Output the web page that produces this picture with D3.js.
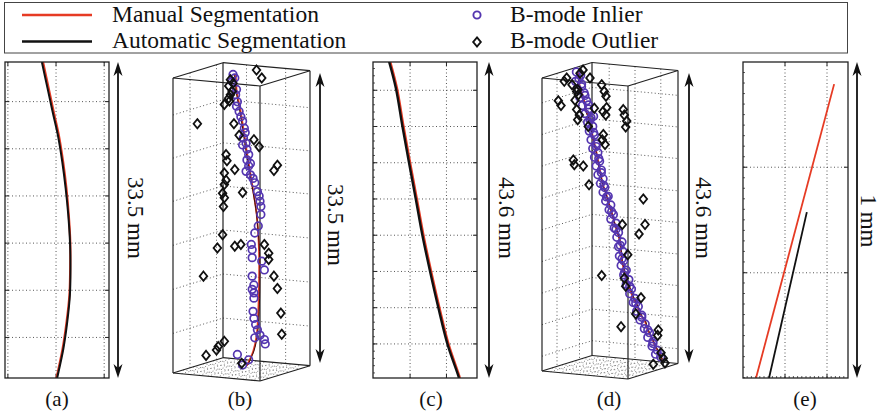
<!DOCTYPE html>
<html>
<head>
<meta charset="utf-8">
<script src="https://cdn.jsdelivr.net/npm/d3@7"></script>
<style>
body { margin: 0; background: #fff; }
text { font-family: "Liberation Serif", "Times New Roman", serif; fill: #111; }
</style>
</head>
<body>
<script>
// colours
var red = "#e63b24", purple = "#5436b0";

// legend + labels
var legendLabels = ["Manual Segmentation", "Automatic Segmentation", "B-mode Inlier", "B-mode Outlier"];
var panelLabels = ["(a)", "(b)", "(c)", "(d)", "(e)"];
var arrowLabels = ["33.5 mm", "33.5 mm", "43.6 mm", "43.6 mm", "1 mm"];

// (a) lateral mm, depth mm
var manualA = [[-1.35,15.8],[-0.76,18.6],[-0.24,21.1],[0.28,23.5],[0.74,26.4],[1.08,29.2],[1.32,32.0],[1.48,34.9],[1.47,37.7],[1.39,40.5],[1.10,43.3],[0.68,46.2],[0.07,49.2],[0.03,49.4]];
var autoA = [[-1.47,15.8],[-0.88,18.6],[-0.35,21.1],[0.18,23.5],[0.65,26.4],[1.00,29.2],[1.27,32.0],[1.45,34.9],[1.50,37.7],[1.44,40.5],[1.17,43.3],[0.76,46.2],[0.14,49.2],[0.10,49.4]];
var xTicksA = [-5, 0, 5], yTicksA = [20, 25, 30, 35, 40, 45];

// (c)
var manualC = [[-2.74,11.0],[-1.80,14.7],[-0.89,20.0],[0.03,25.1],[0.96,30.1],[1.87,35.1],[2.93,40.1],[4.07,45.1],[5.32,50.1],[6.80,54.5],[6.86,54.8]];
var autoC = [[-2.90,11.0],[-1.96,14.7],[-1.05,20.0],[-0.13,25.1],[0.80,30.1],[1.71,35.1],[2.77,40.1],[3.91,45.1],[5.16,50.1],[6.66,54.5],[6.72,54.8]];
var xTicksC = [0, 5], yTicksC = [15, 20, 25, 30, 35, 40, 45, 50];

// (e)
var manualE = [[0.031,1.0],[0.217,0.07]];
var autoE = [[0.062,1.0],[0.152,0.475]];
var xTicksE = [0.1, 0.2], yTicksE = [0.333, 0.667];

// (b) projected view: lateral mm, depth mm
var manualB = [[7.1,-0.4],[7.22,0],[7.32,1.5],[7.7,3.4],[8.08,5.7],[8.47,8.3],[8.85,10.6],[9.23,12.9],[9.62,15.5],[9.89,19.7],[9.89,23.5],[9.8,26.5],[9.62,29.2],[9.23,31.0],[8.47,32.7]];
var autoB = [[7.0,-0.4],[7.12,0],[7.25,1.5],[7.62,3.4],[8.0,5.7],[8.4,8.3],[8.8,10.6],[9.2,12.9],[9.6,15.5],[9.95,19.7],[9.98,23.5],[9.9,26.5],[9.7,29.2],[9.3,31.0],[8.6,32.6]];
var inlierB = [[6.9,-0.4],[7.1,0],[6.8,0.4],[7.3,1.3],[7.2,1.9],[7.4,2.7],[7.3,3.2],[7.6,3.8],[7.8,4.4],[8.0,4.9],[8.2,5.7],[8.3,6.2],[8.1,6.8],[8.4,7.4],[8.0,7.6],[8.5,8.1],[8.7,8.7],[8.5,9.3],[8.9,9.7],[8.7,10.0],[8.4,10.6],[8.9,11.0],[9.2,11.4],[9.4,11.9],[9.7,12.9],[9.9,13.4],[10.0,14.0],[10.1,14.6],[10.1,15.5],[9.8,16.8],[9.4,17.6],[9.0,18.9],[9.1,19.5],[9.1,20.4],[10.2,20.8],[10.5,21.8],[9.1,22.5],[9.3,23.5],[9.1,24.0],[9.3,24.4],[9.3,25.0],[9.2,26.5],[9.3,27.3],[9.5,28.0],[9.7,28.6],[10.0,29.2],[9.4,29.5],[10.5,29.7],[10.6,30.2],[7.4,31.4],[8.7,32.0],[8.0,32.6]];
var outlierB = [[9.6,-0.9],[10.2,0],[6.6,0.2],[6.9,0.6],[6.4,0.9],[6.8,1.5],[6.6,1.9],[6.4,2.3],[6.5,2.6],[5.9,3.0],[2.8,5.2],[7.0,5.2],[7.6,6.5],[9.3,7.0],[9.9,7.8],[6.1,8.7],[6.2,9.4],[12.0,9.9],[11.6,10.5],[7.1,10.4],[5.9,10.8],[6.1,11.6],[5.9,12.1],[8.0,13.0],[5.7,13.1],[5.9,13.6],[5.8,14.6],[5.7,17.8],[5.1,19.3],[7.1,19.1],[7.8,18.9],[10.5,18.9],[11.0,19.9],[11.0,20.6],[3.5,22.5],[11.6,22.5],[12.0,23.9],[12.4,26.7],[12.5,29.1],[5.9,29.9],[5.2,30.5],[5.0,30.9],[3.8,31.5],[7.9,32.4]];
var zTicksB = [4.2, 9.1, 14.0, 19.0, 24.0, 29.0];

// (d)
var manualD = [[4.19,-0.9],[4.30,0.3],[4.42,1.5],[4.77,2.7],[5.0,4.0],[5.23,5.2],[5.58,6.4],[5.76,7.7],[5.93,8.9],[6.16,10.1],[6.40,11.5],[6.57,12.7],[6.74,13.8],[6.92,14.9],[7.09,15.9],[7.44,17.1],[7.67,18.3],[8.02,19.6],[8.26,20.8],[8.72,22.8],[9.07,24.3],[9.19,25.7],[9.30,27.2],[9.53,28.6],[9.77,29.8],[10.12,31.0],[10.47,32.3],[10.81,33.2],[11.16,34.2],[11.51,35.3],[11.98,36.2],[12.21,37.2],[12.56,38.2],[12.91,39.1],[13.14,39.9],[13.49,40.6],[13.72,41.2],[14.0,42.0]];
var autoD = [[4.12,-0.9],[4.24,0.3],[4.37,1.5],[4.71,2.7],[4.95,4.0],[5.18,5.2],[5.53,6.4],[5.72,7.7],[5.89,8.9],[6.12,10.1],[6.37,11.5],[6.54,12.7],[6.72,13.8],[6.90,14.9],[7.07,15.9],[7.42,17.1],[7.66,18.3],[8.01,19.6],[8.26,20.8],[8.73,22.8],[9.09,24.3],[9.22,25.7],[9.34,27.2],[9.58,28.6],[9.83,29.8],[10.18,31.0],[10.54,32.3],[10.88,33.2],[11.23,34.2],[11.58,35.3],[12.05,36.2],[12.28,37.2],[12.63,38.2],[12.97,39.1],[13.2,39.9],[13.55,40.6],[13.78,41.2],[14.05,42.0]];
var inlierD = [[4.0,-0.9],[4.5,-0.4],[3.9,0.5],[4.6,0.9],[4.1,1.6],[4.9,2.2],[4.4,2.9],[5.2,3.4],[4.7,4.1],[5.4,4.6],[5.0,5.3],[5.7,5.9],[5.3,6.6],[5.9,7.2],[5.5,7.9],[6.1,8.5],[5.7,9.2],[6.3,9.8],[5.9,10.5],[6.5,11.1],[6.1,11.8],[6.7,12.4],[6.3,13.1],[6.9,13.7],[6.5,14.4],[7.1,15.0],[6.8,15.7],[7.3,16.3],[7.1,17.0],[7.7,17.6],[7.4,18.3],[8.0,18.9],[7.8,19.6],[8.3,20.3],[8.0,21.0],[8.6,21.6],[8.4,22.3],[8.9,23.0],[8.7,23.7],[9.3,24.4],[8.9,25.1],[9.4,25.8],[9.0,26.5],[9.5,27.2],[9.2,27.9],[9.8,28.6],[9.5,29.3],[10.1,30.0],[9.8,30.7],[10.4,31.4],[10.2,32.1],[10.8,32.8],[10.6,33.4],[11.2,34.0],[11.0,34.7],[11.6,35.3],[11.4,36.0],[12.0,36.6],[11.9,37.3],[12.5,37.9],[12.3,38.6],[12.9,39.2],[12.8,39.9],[13.4,40.5],[13.2,41.1],[13.8,41.5],[6.0,5.7],[4.3,0.1],[4.6,1.3],[5.0,2.6],[5.4,4.0],[5.6,6.2],[6.0,8.1],[6.3,10.2],[6.6,12.0],[6.9,14.1],[7.2,16.0],[7.5,17.7],[8.1,19.9],[8.6,22.5],[9.1,24.9],[9.3,26.9],[9.6,28.9],[10.2,31.0],[10.9,33.5],[11.6,35.6],[12.3,37.5],[12.9,39.5]];
var outlierD = [[2.87,0],[2.59,0.5],[4.42,-0.7],[4.77,-1.2],[5.58,0],[3.49,1.0],[4.15,1.7],[4.03,2.0],[4.22,2.5],[3.84,3.3],[6.94,1.0],[7.24,2.0],[7.44,2.7],[1.9,3.4],[2.21,4.1],[4.03,4.7],[4.34,5.5],[4.15,6.2],[6.08,4.5],[7.52,4.4],[7.41,5.5],[7.1,5.0],[9.45,4.7],[9.57,5.5],[9.85,6.4],[9.73,7.3],[5.38,7.2],[7.13,8.4],[7.01,9.2],[7.33,9.9],[3.64,12.2],[3.76,12.9],[4.8,13.1],[5.47,15.9],[11.78,18.0],[9.34,21.8],[11.98,21.8],[11.28,23.2],[9.97,26.3],[6.94,29.4],[9.57,29.8],[9.73,31.0],[11.51,32.7],[10.9,35.1],[9.19,37.0],[13.52,37.5],[13.45,38.3],[13.84,40.9],[14.1,41.7],[14.3,42.4],[12.94,42.6]];
var zTicksD = [3.7, 8.4, 13.1, 17.9, 22.6, 27.3, 32.0, 36.7, 41.4];

var svg = d3.select("body").append("svg")
  .attr("width", 881)
  .attr("height", 416);

var gridCol = "#444";

function diamond(cx, cy) {
  return "M" + cx + "," + (cy - 4.6) + "L" + (cx + 3.8) + "," + cy + "L" + cx + "," + (cy + 4.6) + "L" + (cx - 3.8) + "," + cy + "Z";
}

function curveLine(xs, ys) {
  return d3.line().x(function(d){ return xs(d[0]); }).y(function(d){ return ys(d[1]); }).curve(d3.curveCatmullRom);
}

//--- legend
var lg = svg.append("g");
lg.append("rect").attr("x", 4.5).attr("y", 2.5).attr("width", 843).attr("height", 50.5)
  .attr("fill", "none").attr("stroke", "#444").attr("stroke-width", 1);
lg.append("line").attr("x1", 22).attr("x2", 92).attr("y1", 15).attr("y2", 15).attr("stroke", red).attr("stroke-width", 2.5);
lg.append("line").attr("x1", 22).attr("x2", 92).attr("y1", 41.5).attr("y2", 41.5).attr("stroke", "#111").attr("stroke-width", 2.5);
lg.append("circle").attr("cx", 477).attr("cy", 15).attr("r", 3.6).attr("fill", "none").attr("stroke", purple).attr("stroke-width", 1.9);
lg.append("path").attr("d", diamond(477, 42)).attr("fill", "none").attr("stroke", "#111").attr("stroke-width", 1.9);
[[112, 22], [112, 48], [510, 22], [510, 48]].forEach(function(p, i) {
  lg.append("text").attr("x", p[0]).attr("y", p[1]).attr("font-size", "23.5px").text(legendLabels[i]);
});

//--- 2D panels
function panel2D(id, xs, ys, xTicks, yTicks, manual, auto, widths, minor) {
  var g = svg.append("g");
  var x0 = xs.range()[0], x1 = xs.range()[1], y0 = ys.range()[0], y1 = ys.range()[1];
  g.append("clipPath").attr("id", id).append("rect")
    .attr("x", x0).attr("y", y0).attr("width", x1 - x0).attr("height", y1 - y0);

  g.selectAll(".gx").data(xTicks).enter().append("line")
    .attr("x1", xs).attr("x2", xs).attr("y1", y0).attr("y2", y1)
    .attr("stroke", gridCol).attr("stroke-width", 0.9).attr("stroke-dasharray", "1,2.5");
  g.selectAll(".gy").data(yTicks).enter().append("line")
    .attr("y1", ys).attr("y2", ys).attr("x1", x0).attr("x2", x1)
    .attr("stroke", gridCol).attr("stroke-width", 0.9).attr("stroke-dasharray", "1,2.5");

  // inner tick marks
  yTicks.forEach(function(t) {
    g.append("line").attr("x1", x0).attr("x2", x0 + 4).attr("y1", ys(t)).attr("y2", ys(t)).attr("stroke", "#222");
    g.append("line").attr("x1", x1).attr("x2", x1 - 4).attr("y1", ys(t)).attr("y2", ys(t)).attr("stroke", "#222");
  });
  xTicks.forEach(function(t) {
    g.append("line").attr("x1", xs(t)).attr("x2", xs(t)).attr("y1", y0).attr("y2", y0 + 4).attr("stroke", "#222");
    g.append("line").attr("x1", xs(t)).attr("x2", xs(t)).attr("y1", y1).attr("y2", y1 - 4).attr("stroke", "#222");
  });
  if (minor) {
    minor.y.forEach(function(t) {
      g.append("line").attr("x1", x0).attr("x2", x0 + 2).attr("y1", ys(t)).attr("y2", ys(t)).attr("stroke", "#333").attr("stroke-width", 0.8);
    });
    minor.x.forEach(function(t) {
      g.append("line").attr("x1", xs(t)).attr("x2", xs(t)).attr("y1", y1).attr("y2", y1 - 2).attr("stroke", "#333").attr("stroke-width", 0.8);
    });
  }

  var lines = g.append("g").attr("clip-path", "url(#" + id + ")");
  lines.append("path").attr("d", curveLine(xs, ys)(manual)).attr("fill", "none").attr("stroke", red).attr("stroke-width", widths[0]);
  lines.append("path").attr("d", curveLine(xs, ys)(auto)).attr("fill", "none").attr("stroke", "#111").attr("stroke-width", widths[1]);

  g.append("rect").attr("x", x0).attr("y", y0).attr("width", x1 - x0).attr("height", y1 - y0)
    .attr("fill", "none").attr("stroke", "#222").attr("stroke-width", 1.3);
}

var xA = d3.scaleLinear().domain([-5.3, 5.5]).range([5, 109]);
var yA = d3.scaleLinear().domain([15.8, 49.3]).range([62, 378]);
panel2D("clipA", xA, yA, xTicksA, yTicksA, manualA, autoA, [2.2, 2], null);

var xC = d3.scaleLinear().domain([-5.1, 9.2]).range([373, 477]);
var yC = d3.scaleLinear().domain([11.1, 54.7]).range([62, 378]);
panel2D("clipC", xC, yC, xTicksC, yTicksC, manualC, autoC, [2.2, 2.4], {y: d3.range(12, 54.5, 1), x: []});

var xE = d3.scaleLinear().domain([0, 0.25]).range([743, 848]);
var yE = d3.scaleLinear().domain([0, 1]).range([62, 378]);
panel2D("clipE", xE, yE, xTicksE, yTicksE, manualE, autoE, [1.8, 1.8], {y: d3.range(0.0333, 1, 0.0333), x: d3.range(0.01, 0.25, 0.01)});

//--- 3D panels
function panel3D(cfg) {
  var g = svg.append("g");
  var D = cfg.y.domain()[1], L = cfg.x.domain()[1];
  var wx = cfg.x(L) - cfg.x(0);
  function P(X, Y, d) {
    return [cfg.x(0) + wx * X + cfg.back[0] * Y, cfg.y(d) + cfg.slope * X + cfg.back[1] * Y];
  }
  function seg(a, b, dotted, col) {
    g.append("line").attr("x1", a[0]).attr("y1", a[1]).attr("x2", b[0]).attr("y2", b[1])
      .attr("stroke", col || (dotted ? gridCol : "#222"))
      .attr("stroke-width", dotted ? 0.9 : 1.2)
      .attr("stroke-dasharray", dotted ? "1,2.5" : null);
  }
  // grid on side wall, back wall, floor
  cfg.zTicks.forEach(function(d) {
    seg(P(0, 0, d), P(0, 1, d), true);
    seg(P(0, 1, d), P(1, 1, d), true);
  });
  cfg.sideTicks.forEach(function(Y) { seg(P(0, Y, 0), P(0, Y, D), true); });
  cfg.backTicks.forEach(function(X) { seg(P(X, 1, 0), P(X, 1, D), true); });
  d3.range(0.1, 0.95, 0.1).forEach(function(X) { seg(P(X, 0, D), P(X, 1, D), true, "#777"); });
  d3.range(0.2, 0.95, 0.2).forEach(function(Y) { seg(P(0, Y, D), P(1, Y, D), true, "#777"); });

  // box edges
  [0, D].forEach(function(d) {
    seg(P(0, 0, d), P(1, 0, d)); seg(P(1, 0, d), P(1, 1, d));
    seg(P(1, 1, d), P(0, 1, d)); seg(P(0, 1, d), P(0, 0, d));
  });
  [[0, 0], [1, 0], [0, 1], [1, 1]].forEach(function(c) { seg(P(c[0], c[1], 0), P(c[0], c[1], D)); });

  g.append("path").attr("d", curveLine(cfg.x, cfg.y)(cfg.manual)).attr("fill", "none").attr("stroke", red).attr("stroke-width", 1.8);
  g.append("path").attr("d", curveLine(cfg.x, cfg.y)(cfg.auto)).attr("fill", "none").attr("stroke", "#3a1010").attr("stroke-width", 1);

  g.selectAll(".in").data(cfg.inlier).enter().append("circle")
    .attr("cx", function(d){ return cfg.x(d[0]); })
    .attr("cy", function(d){ return cfg.y(d[1]); })
    .attr("r", 3.8).attr("fill", "none").attr("stroke", purple).attr("stroke-width", 1.7);
  g.selectAll(".out").data(cfg.outlier).enter().append("path")
    .attr("d", function(d){ return diamond(cfg.x(d[0]), cfg.y(d[1])); })
    .attr("fill", "none").attr("stroke", "#111").attr("stroke-width", 1.8);
}

var xB = d3.scaleLinear().domain([0, 10]).range([173, 260]);
var yB = d3.scaleLinear().domain([0, 33.5]).range([78, 373]);
panel3D({x: xB, y: yB, slope: 8, back: [50, -15.3], zTicks: zTicksB, sideTicks: [0.34, 0.87], backTicks: [0.27, 0.72],
  manual: manualB, auto: autoB, inlier: inlierB, outlier: outlierB});

var xD = d3.scaleLinear().domain([0, 10]).range([542, 628]);
var yD = d3.scaleLinear().domain([0, 43.6]).range([78, 371]);
panel3D({x: xD, y: yD, slope: 8, back: [50, -15.5], zTicks: zTicksD, sideTicks: [0.3, 0.75], backTicks: [0.2, 0.5, 0.8],
  manual: manualD, auto: autoD, inlier: inlierD, outlier: outlierD});

//--- dimension arrows
function arrow(x, y1, y2) {
  var g = svg.append("g");
  g.append("line").attr("x1", x).attr("x2", x).attr("y1", y1 + 8).attr("y2", y2 - 8).attr("stroke", "#111").attr("stroke-width", 1.8);
  g.append("path").attr("d", "M" + x + "," + y1 + "L" + (x + 4.5) + "," + (y1 + 14) + "L" + x + "," + (y1 + 10) + "L" + (x - 4.5) + "," + (y1 + 14) + "Z").attr("fill", "#111");
  g.append("path").attr("d", "M" + x + "," + y2 + "L" + (x + 4.5) + "," + (y2 - 14) + "L" + x + "," + (y2 - 10) + "L" + (x - 4.5) + "," + (y2 - 14) + "Z").attr("fill", "#111");
}
var arrowPos = [[118, yA.range()], [320, [yB(0) - 5, yB(33.5) - 10]], [489, yC.range()], [689, [yD(0) - 5, yD(43.6) - 8]], [857, yE.range()]];
var arrowText = [[135.5, 218], [335, 225], [506.5, 218], [703.5, 218], [868.5, 221]];
arrowPos.forEach(function(a, i) {
  arrow(a[0], a[1][0], a[1][1]);
  svg.append("text")
    .attr("transform", "translate(" + arrowText[i][0] + "," + arrowText[i][1] + ") rotate(90)")
    .attr("text-anchor", "middle").attr("dominant-baseline", "central")
    .attr("font-size", "23px").text(arrowLabels[i]);
});

//--- panel letters
[57, 240, 431, 609, 805].forEach(function(x, i) {
  svg.append("text").attr("x", x).attr("y", 406).attr("text-anchor", "middle").attr("font-size", "21px").text(panelLabels[i]);
});
</script>
</body>
</html>
